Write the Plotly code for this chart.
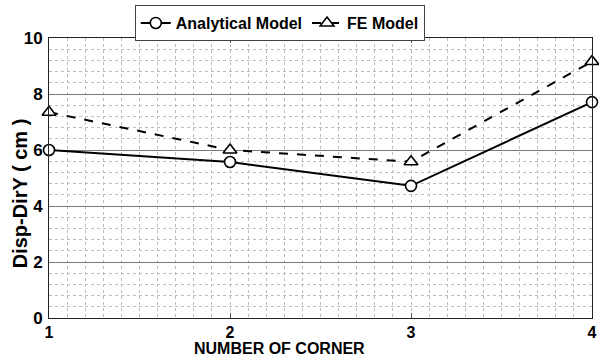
import plotly.graph_objects as go

corners = [1, 2, 3, 4]
analytical = [6.0, 5.57, 4.72, 7.71]
fe_model = [7.35, 6.0, 5.58, 9.16]
x_ticks = [1, 2, 3, 4]
y_ticks = [0, 2, 4, 6, 8, 10]

FONT = "Liberation Sans, Arial, sans-serif"

fig = go.Figure()
fig.add_trace(go.Scatter(
    x=corners, y=analytical, name="Analytical Model", mode="lines+markers",
    line=dict(color="black", width=2),
    marker=dict(symbol="circle", size=11, color="white", line=dict(color="black", width=1.6)),
    cliponaxis=False,
))
fig.add_trace(go.Scatter(
    x=corners, y=fe_model, name="FE Model", mode="lines+markers",
    line=dict(color="black", width=2, dash="dash"),
    marker=dict(symbol="triangle-up", size=12, color="white", line=dict(color="black", width=1.6)),
    cliponaxis=False,
))

fig.update_layout(
    width=599, height=360,
    margin=dict(l=49, r=7, t=38, b=42, autoexpand=False),
    paper_bgcolor="white", plot_bgcolor="white",
    font=dict(family=FONT, color="black", size=16, weight="bold"),
    showlegend=True,
    legend=dict(
        orientation="h", x=0.425, xanchor="center",
        yref="container", y=0.986, yanchor="top",
        bgcolor="white", bordercolor="#444", borderwidth=1,
        font=dict(family=FONT, size=16, weight="bold"),
        itemwidth=30, tracegroupgap=0,
    ),
    xaxis=dict(
        range=[1, 4], tickvals=x_ticks, ticktext=[str(v) for v in x_ticks],
        automargin=False,
        showgrid=True, gridcolor="#bdbdbd", griddash="dot", gridwidth=1,
        minor=dict(dtick=0.1, showgrid=True, gridcolor="#bdbdbd", griddash="dot", gridwidth=1),
        ticks="inside", ticklen=5, tickcolor="#555",
        showline=True, linecolor="#222", linewidth=1, mirror="ticks",
        zeroline=False,
        tickfont=dict(family=FONT, size=16, weight="bold"),
    ),
    yaxis=dict(
        range=[0, 10], tickvals=y_ticks, ticktext=[str(v) for v in y_ticks],
        automargin=False,
        showgrid=True, gridcolor="#7a7a7a", gridwidth=1,
        minor=dict(dtick=0.4, showgrid=True, gridcolor="#bdbdbd", griddash="dot", gridwidth=1),
        ticks="", showline=True, linecolor="#222", linewidth=1, mirror=True,
        zeroline=False,
        tickfont=dict(family=FONT, size=17, weight="bold"),
        ticklabelstandoff=2,
    ),
    annotations=[
        dict(
            text="Disp-DirY ( cm )", textangle=-90, xref="paper", yref="paper",
            x=-0.053, y=0.446, xanchor="center", yanchor="middle", showarrow=False,
            font=dict(family=FONT, size=20, weight="bold"),
        ),
        dict(
            text="NUMBER OF CORNER", xref="paper", yref="paper",
            x=0.425, y=-0.108, xanchor="center", yanchor="middle", showarrow=False,
            font=dict(family=FONT, size=16, weight="bold"),
        ),
    ],
)

fig.write_html("out.html", config={"displayModeBar": False},
               post_script="document.body.style.margin='0';document.body.style.padding='0';")
